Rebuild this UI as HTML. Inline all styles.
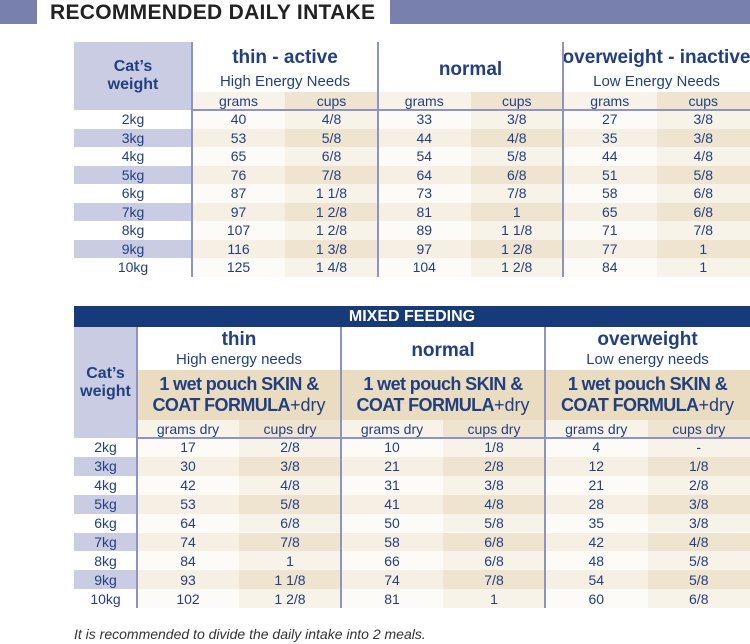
<!DOCTYPE html>
<html><head><meta charset="utf-8">
<style>
*{margin:0;padding:0;box-sizing:border-box}
body{width:750px;height:644px;background:#fff;position:relative;overflow:hidden;font-family:"Liberation Sans",sans-serif;color:#223f80}
.a{position:absolute}
.c{position:absolute;display:flex;align-items:center;justify-content:center;text-align:center;white-space:nowrap}
.b{font-weight:bold}
</style></head><body>
<div class="a" style="left:0;top:0;width:37px;height:24px;background:#7880ad"></div>
<div class="a b" style="left:50px;top:1px;font-size:21px;color:#222;letter-spacing:0.3px">RECOMMENDED DAILY INTAKE</div>
<div class="a" style="left:390px;top:0;width:360px;height:24px;background:#7880ad"></div>

<div id="t1"></div>
<div id="t2"></div>

<div class="a" style="left:74px;top:626px;font-size:14px;font-style:italic;color:#333">It is recommended to divide the daily intake into 2 meals.</div>

<script>
const weights=["2kg","3kg","4kg","5kg","6kg","7kg","8kg","9kg","10kg"];
const thinGrams=["40","53","65","76","87","97","107","116","125"];
const thinCups=["4/8","5/8","6/8","7/8","1 1/8","1 2/8","1 2/8","1 3/8","1 4/8"];
const normGrams=["33","44","54","64","73","81","89","97","104"];
const normCups=["3/8","4/8","5/8","6/8","7/8","1","1 1/8","1 2/8","1 2/8"];
const overGrams=["27","35","44","51","58","65","71","77","84"];
const overCups=["3/8","3/8","4/8","5/8","6/8","6/8","7/8","1","1"];
const mThinGrams=["17","30","42","53","64","74","84","93","102"];
const mThinCups=["2/8","3/8","4/8","5/8","6/8","7/8","1","1 1/8","1 2/8"];
const mNormGrams=["10","21","31","41","50","58","66","74","81"];
const mNormCups=["1/8","2/8","3/8","4/8","5/8","6/8","6/8","7/8","1"];
const mOverGrams=["4","12","21","28","35","42","48","54","60"];
const mOverCups=["-","1/8","2/8","3/8","3/8","4/8","5/8","5/8","6/8"];

function box(parent,x,y,w,h,bg,txt,fs,bold,name){
  const d=document.createElement('div');
  d.className='c';
  d.style.cssText=`left:${x}px;top:${y}px;width:${w}px;height:${h}px;background:${bg||'transparent'};font-size:${fs||14}px;${bold?'font-weight:bold;':''}`;
  if(txt!==undefined)d.innerHTML=txt;
  
  
  parent.appendChild(d);return d;
}
function line(parent,x,y,w,h,name){
  const d=document.createElement('div');d.className='a';
  d.style.cssText=`left:${x}px;top:${y}px;width:${w}px;height:${h}px;background:#8d93c2`;
  
  
  parent.appendChild(d);
}
const LAV='#c9cce3';
function build(p,o){
  weights.forEach((w,i)=>{
    const y=o.y0+i*o.rh, odd=i%2==1;
    box(p,o.wx,y,o.ww,o.rh,odd?LAV:'#fff',w,14,false,'weight-cell');
    o.groups.forEach(g=>{
      const hw=g.w/2;
      box(p,g.x,y,hw,o.rh,odd?'#f6f0e4':'#fdfbf7',g.data[0][i],14,false,'grams-cell');
      box(p,g.x+hw,y,g.w-hw,o.rh,odd?'#efe4cf':'#f8f3e9',g.data[1][i],14,false,'cups-cell');
    });
  });
}
const t1=document.getElementById('t1');
const g1=[{x:192,w:186,data:[thinGrams,thinCups],t:'thin - active',s:'High Energy Needs'},
          {x:378,w:185,data:[normGrams,normCups],t:'normal',s:''},
          {x:563,w:187,data:[overGrams,overCups],t:'overweight - inactive',s:'Low Energy Needs'}];
box(t1,74,42,118,68,LAV,"Cat’s<br>weight",16,true,'weight-header');
g1.forEach(g=>{
  if(g.s){box(t1,g.x,45,g.w,26,null,g.t,19,true,'group-title');box(t1,g.x,71,g.w,20,null,g.s,15,false,'group-subtitle');}
  else box(t1,g.x,55,g.w,30,null,g.t,19,true,'group-title');
  box(t1,g.x,92,g.w/2,18,'#f8f3e9','grams',14,false,'grams-header');
  box(t1,g.x+g.w/2,92,g.w/2,18,'#efe4cf','cups',14,false,'cups-header');
});
build(t1,{wx:74,ww:118,y0:110,rh:18.5,groups:g1});
line(t1,192,109,558,1.5,'header-divider');
[192,378,563].forEach(x=>line(t1,x-1,42,1.5,235,'column-divider'));

const t2=document.getElementById('t2');
box(t2,74,306,676,21,'#173a7a','MIXED FEEDING',16,true,'mixed-feeding-banner').style.color='#fff';
box(t2,74,327,63,111,LAV,"Cat’s<br>weight",16,true,'weight-header');
const g2=[{x:137,w:204,data:[mThinGrams,mThinCups],t:'thin',s:'High energy needs'},
          {x:341,w:204,data:[mNormGrams,mNormCups],t:'normal',s:''},
          {x:545,w:205,data:[mOverGrams,mOverCups],t:'overweight',s:'Low energy needs'}];
g2.forEach(g=>{
  if(g.s){box(t2,g.x,328,g.w,24,null,g.t,19,true,'group-title');box(t2,g.x,350,g.w,19,null,g.s,15,false,'group-subtitle');}
  else box(t2,g.x,336,g.w,30,null,g.t,19,true,'group-title');
  const f=box(t2,g.x,370,g.w,50,'#e9dcc0','<div style="display:inline-block;line-height:21px"><b style="letter-spacing:-0.6px">1 wet pouch SKIN &amp;</b><br><b style="letter-spacing:-0.6px">COAT FORMULA</b>+dry</div>',18,false,'formula-label');
  box(t2,g.x,420,g.w/2,18,'#f8f3e9','grams dry',14,false,'grams-header');
  box(t2,g.x+g.w/2,420,g.w/2,18,'#efe4cf','cups dry',14,false,'cups-header');
});
build(t2,{wx:74,ww:63,y0:438,rh:18.9,groups:g2});
line(t2,137,437,613,1.5,'header-divider');
[137,341,545].forEach(x=>line(t2,x-1,327,1.5,281,'column-divider'));
</script>
</body></html>
